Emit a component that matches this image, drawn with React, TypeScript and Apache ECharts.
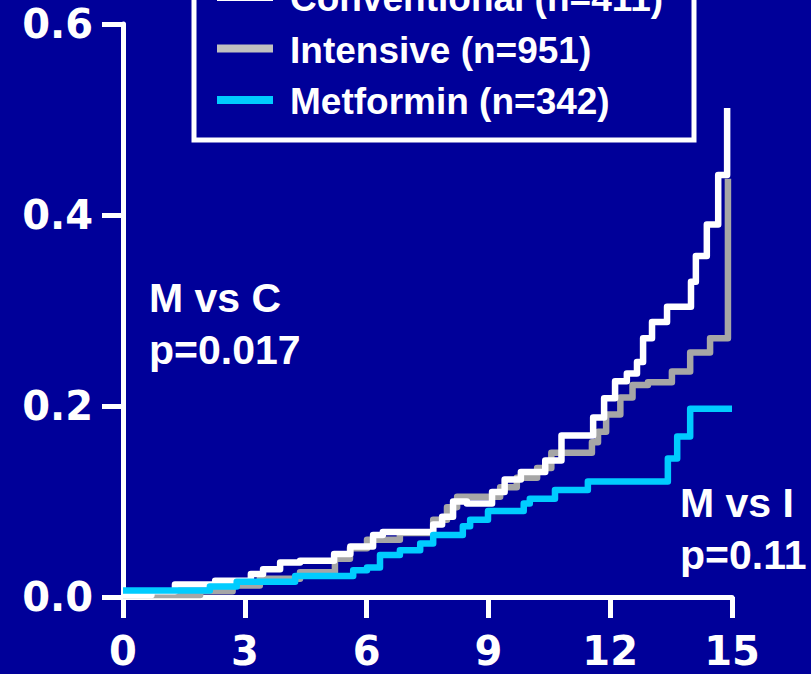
import React, { useEffect, useRef } from "react";
import * as echarts from "echarts";

// Time (years) ticks and proportion ticks
const xTicks = [0, 3, 6, 9, 12, 15];
const yTicks = [0, 0.2, 0.4, 0.6];

// Series: [years, cumulative proportion]
const conventional: [number, number][] = [
  [0, 0.002], [0.7, 0.006], [1.28, 0.013], [2.27, 0.017], [3.15, 0.024],
  [3.45, 0.029], [3.87, 0.036], [4.36, 0.038], [5.2, 0.045], [5.6, 0.053],
  [6.16, 0.065], [6.4, 0.068], [7.64, 0.076], [7.86, 0.084], [8.13, 0.1],
  [8.47, 0.098], [9.09, 0.11], [9.4, 0.123], [9.8, 0.131], [10.4, 0.143],
  [10.8, 0.169], [11.58, 0.188], [11.85, 0.208], [12.12, 0.226], [12.41, 0.234],
  [12.66, 0.246], [12.81, 0.271], [13.03, 0.288], [13.4, 0.304], [13.99, 0.33],
  [14.11, 0.357], [14.38, 0.39], [14.66, 0.442], [14.88, 0.512],
];

const intensive: [number, number][] = [
  [0, 0.002], [1.9, 0.006], [2.7, 0.012], [3.37, 0.019], [4.36, 0.026],
  [5.22, 0.04], [5.59, 0.051], [6.01, 0.06], [6.82, 0.067], [7.64, 0.081],
  [7.98, 0.094], [8.23, 0.105], [9.29, 0.115], [9.7, 0.125], [10.2, 0.135],
  [10.55, 0.151], [11.55, 0.162], [11.7, 0.173], [11.9, 0.191], [12.25, 0.209],
  [12.55, 0.222], [12.93, 0.225], [13.52, 0.236], [13.97, 0.256], [14.46, 0.271],
  [14.9, 0.438],
];

const metformin: [number, number][] = [
  [0, 0.0068], [2.14, 0.011], [2.8, 0.016], [4.24, 0.022], [5.67, 0.028],
  [6.01, 0.031], [6.33, 0.044], [6.82, 0.049], [7.32, 0.056], [7.64, 0.065],
  [8.37, 0.074], [8.55, 0.081], [8.99, 0.09], [9.87, 0.098], [10.02, 0.103],
  [10.64, 0.112], [11.45, 0.121], [13.42, 0.145], [13.65, 0.168], [13.97, 0.197],
  [15.0, 0.197],
];

const legendItems = [
  { name: "Conventional (n=411)", color: "#FFFFFF" },
  { name: "Intensive (n=951)", color: "#C0C0C0" },
  { name: "Metformin (n=342)", color: "#00CCFF" },
];

const annotations = [
  { lines: ["M vs C", "p=0.017"], x: 149, y: 297.5 },
  { lines: ["M vs I", "p=0.11"], x: 680, y: 502.5 },
];

const BG = "#000099";

export default function App() {
  const ref = useRef<HTMLDivElement>(null);

  useEffect(() => {
    if (!ref.current) return;
    const chart = echarts.init(ref.current, null, { renderer: "svg" });

    const graphic: any[] = [];
    // legend box (partly above the top edge)
    graphic.push({
      type: "rect",
      shape: { x: 194, y: -40, width: 500, height: 180 },
      style: { fill: "none", stroke: "#FFFFFF", lineWidth: 5 },
    });
    legendItems.forEach((it, i) => {
      const cy = -3 + i * 51.5;
      graphic.push({
        type: "line",
        shape: { x1: 217, y1: cy, x2: 273, y2: cy },
        style: { stroke: it.color, lineWidth: 8 },
      });
      graphic.push({
        type: "text",
        x: 290,
        y: cy + 1.5,
        style: {
          text: it.name,
          fill: "#FFFFFF",
          fontSize: 37,
          fontWeight: "bold",
          fontFamily: "Liberation Sans",
          verticalAlign: "middle",
          align: "left",
        },
      });
    });
    annotations.forEach((a) => {
      a.lines.forEach((ln, j) => {
        graphic.push({
          type: "text",
          x: a.x,
          y: a.y + j * 52,
          style: {
            text: ln,
            fill: "#FFFFFF",
            fontSize: 41,
            fontWeight: "bold",
            fontFamily: "Liberation Sans",
            verticalAlign: "middle",
            align: "left",
          },
        });
      });
    });

    const mkSeries = (name: string, data: [number, number][], color: string) => ({
      name,
      type: "line",
      step: "end",
      data,
      showSymbol: false,
      symbol: "none",
      clip: false,
      lineStyle: { color, width: 6.5, join: "round", cap: "butt" },
      emphasis: { disabled: true },
    });

    chart.setOption({
      animation: false,
      backgroundColor: BG,
      grid: {
        left: 123,
        right: 79,
        top: 24,
        bottom: 77,
        containLabel: false,
        outerBoundsMode: "none",
      },
      xAxis: {
        type: "value",
        min: xTicks[0],
        max: xTicks[xTicks.length - 1],
        interval: 3,
        axisLine: { show: true, lineStyle: { color: "#FFFFFF", width: 5 } },
        axisTick: { show: true, inside: false, length: 21, lineStyle: { color: "#FFFFFF", width: 5 } },
        splitLine: { show: false },
        axisLabel: {
          color: "#FFFFFF",
          fontSize: 40,
          fontWeight: "bold",
          fontFamily: "DejaVu Sans",
          margin: 34,
        },
      },
      yAxis: {
        type: "value",
        min: yTicks[0],
        max: yTicks[yTicks.length - 1],
        interval: 0.2,
        axisLine: { show: true, lineStyle: { color: "#FFFFFF", width: 5 } },
        axisTick: { show: true, inside: false, length: 21, lineStyle: { color: "#FFFFFF", width: 5 } },
        splitLine: { show: false },
        axisLabel: {
          color: "#FFFFFF",
          fontSize: 40,
          fontWeight: "bold",
          fontFamily: "DejaVu Sans",
          margin: 30,
          formatter: (v: number) => v.toFixed(1),
        },
      },
      series: [
        mkSeries("Intensive (n=951)", intensive, "#A6A6A6"),
        mkSeries("Conventional (n=411)", conventional, "#FFFFFF"),
        mkSeries("Metformin (n=342)", metformin, "#00CCFF"),
      ],
      graphic,
    });

    return () => chart.dispose();
  }, []);

  return (
    <div
      ref={ref}
      style={{ position: "fixed", left: 0, top: 0, width: 811, height: 674 }}
    />
  );
}
